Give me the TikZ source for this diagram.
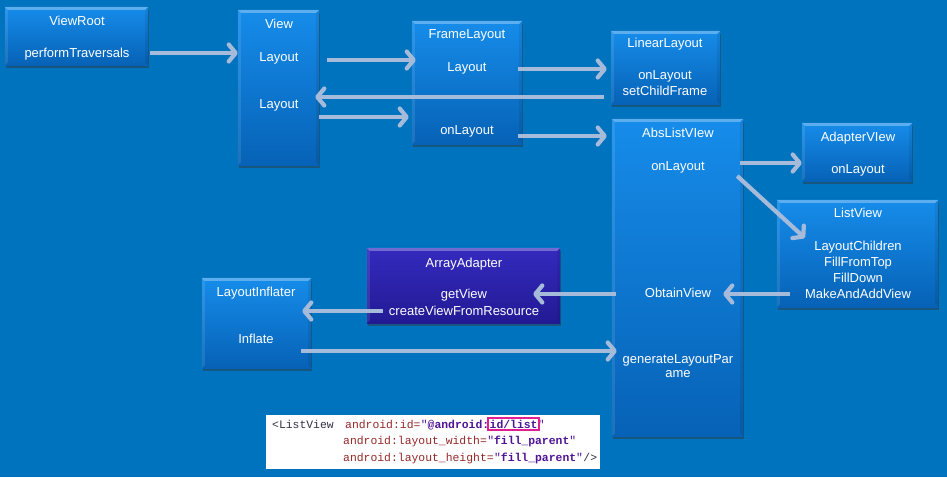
\documentclass[tikz,border=0pt]{standalone}
\usepackage{fontspec}
\setmainfont{Liberation Sans}
\newfontfamily\codefont{Liberation Mono}
\usetikzlibrary{arrows.meta,calc,shadows,fit}
\definecolor{bg}{RGB}{0,115,190}
\definecolor{boxtop}{RGB}{22,140,234}
\definecolor{boxbot}{RGB}{6,98,182}
\definecolor{aatop}{RGB}{52,42,190}
\definecolor{aabot}{RGB}{34,26,148}
\definecolor{arrc}{RGB}{166,187,217}
\definecolor{tagc}{RGB}{50,50,70}
\definecolor{attc}{RGB}{150,40,40}
\definecolor{valc}{RGB}{80,20,150}
\definecolor{hlc}{RGB}{225,30,145}
\tikzset{
  box/.style={rectangle, inner sep=0pt, top color=boxtop, bottom color=boxbot,
    draw=none,
    drop shadow={shadow xshift=1.2pt, shadow yshift=-2.5pt, opacity=0.45, fill=black!80}},
  aabox/.style={box, top color=aatop, bottom color=aabot},
  bevtop/.style={fill=white, fill opacity=0.3},
  bevleft/.style={fill=white, fill opacity=0.1},
  bevright/.style={fill=black, fill opacity=0.07},
  txt/.style={anchor=base, inner sep=0pt, text=white, font=\fontsize{13}{16}\selectfont},
  arr/.style={draw=arrc, line width=4.2pt, -{Straight Barb[length=7pt,width=17pt,round]}},
  code/.style={anchor=base west, inner sep=0pt, font=\codefont\fontsize{11.4}{14}\selectfont},
}
\begin{document}
\begin{tikzpicture}[x=1pt,y=-1pt]
\useasboundingbox (0,0) rectangle (947,477);
\fill[bg] (0,0) rectangle (947,477);

% boxes
\node[box, minimum width=143pt, minimum height=58pt] (vr) at (76.5,36) {};
\node[box, minimum width=81pt, minimum height=155pt] (view) at (278.5,87.5) {};
\node[box, minimum width=110pt, minimum height=123pt] (fl) at (467,82.5) {};
\node[box, minimum width=109pt, minimum height=73pt] (ll) at (665.5,67.5) {};
\node[box, minimum width=131pt, minimum height=317pt] (abs) at (677.5,277.5) {};
\node[box, minimum width=110pt, minimum height=58pt] (av) at (857,152) {};
\node[box, minimum width=161pt, minimum height=107pt] (lv) at (857.5,253.5) {};
\node[aabox, minimum width=193pt, minimum height=75pt] (aa) at (463.5,285.5) {};
\node[box, minimum width=109pt, minimum height=90pt] (li) at (256.5,323) {};

% bevels
\foreach \b in {vr,view,fl,ll,abs,av,lv,aa,li}{
  \path[bevtop] (\b.north west) -- (\b.north east) -- ($(\b.north east)+(-3,3)$) -- ($(\b.north west)+(3,3)$) -- cycle;
  \path[bevleft] (\b.north west) -- ($(\b.north west)+(3,3)$) -- ($(\b.south west)+(3,-3)$) -- (\b.south west) -- cycle;
  \path[bevright] (\b.north east) -- ($(\b.north east)+(-3,3)$) -- ($(\b.south east)+(-3,-3)$) -- (\b.south east) -- cycle;
}

% texts
\node[txt] (vrT) at (77,25.7) {ViewRoot};
\node[txt] (vrP) at (77,57.7) {performTraversals};
\node[txt] (viewT) at (279,28.7) {View};
\node[txt] (viewL1) at (279,61.7) {Layout};
\node[txt] (viewL2) at (279,108.7) {Layout};
\node[txt] (flT) at (467,38.7) {FrameLayout};
\node[txt] (flL) at (467,71.7) {Layout};
\node[txt] (flO) at (467,134.7) {onLayout};
\node[txt] (llT) at (665,47.7) {LinearLayout};
\node[txt] (llO) at (665,79.7) {onLayout};
\node[txt] (llS) at (665,95.7) {setChildFrame};
\node[txt] (absT) at (678,137.7) {AbsListVIew};
\node[txt] (absO) at (678,170.7) {onLayout};
\node[txt] (absV) at (678,297.7) {ObtainView};
\node[txt] (absG1) at (678,363.2) {generateLayoutPar};
\node[txt] (absG2) at (678,377.7) {ame};
\node[txt] (avT) at (858,141.7) {AdapterVIew};
\node[txt] (avO) at (858,173.7) {onLayout};
\node[txt] (lvT) at (858,217.7) {ListView};
\node[txt] (lv1) at (858,250.2) {LayoutChildren};
\node[txt] (lv2) at (858,266.2) {FillFromTop};
\node[txt] (lv3) at (858,282.2) {FillDown};
\node[txt] (lv4) at (858,298.2) {MakeAndAddView};
\node[txt] (aaT) at (464,267.7) {ArrayAdapter};
\node[txt] (aaG) at (464,298.7) {getView};
\node[txt] (aaC) at (464,315.7) {createViewFromResource};
\node[txt] (liT) at (256,296.7) {LayoutInflater};
\node[txt] (liI) at (256,343.7) {Inflate};

% arrows
\draw[arr] ($(vr.east|-0,53)+(2,0)$) -- (view.west|-0,53);
\draw[arr] ($(view.east|-0,60)+(8,0)$) -- ($(fl.west|-0,60)+(4,0)$);
\draw[arr] ($(fl.east|-0,69)+(-4,0)$) -- ($(ll.west|-0,69)+(-4,0)$);
\draw[arr] ($(ll.west|-0,97)+(-7,0)$) -- ($(view.east|-0,97)+(-4,0)$);
\draw[arr] (view.east|-0,117) -- ($(fl.west|-0,117)+(-3,0)$);
\draw[arr] ($(fl.east|-0,136)+(-4,0)$) -- ($(abs.west|-0,136)+(-5,0)$);
\draw[arr] ($(abs.east|-0,163)+(-3,0)$) -- (av.west|-0,163);
\draw[arr] ($(abs.east|-0,176)+(-6,0)$) -- ($(lv.west|-0,238)+(28,0)$);
\draw[arr] ($(lv.west|-0,294)+(13,0)$) -- ($(abs.east|-0,294)+(-20,0)$);
\draw[arr] ($(abs.west|-0,294)+(4,0)$) -- ($(aa.east|-0,294)+(-27,0)$);
\draw[arr] ($(aa.west|-0,311)+(16,0)$) -- ($(li.east|-0,311)+(-9,0)$);
\draw[arr] ($(li.east|-0,351)+(-10,0)$) -- ($(abs.west|-0,351)+(5,0)$);

% code snippet
\node[fill=white, inner sep=0pt, minimum width=334pt, minimum height=54pt] (snip) at (433,441.5) {};
\node[code, text=tagc] (c1a) at (272,428) {<ListView};
\node[code, text=attc] (c1b) at (345,428) {android:id=};
\node[code, text=valc] (c1c) at (c1b.base east) {"\textbf{@android:}};
\node[code, text=valc, font=\codefont\bfseries\fontsize{11.4}{14}\selectfont] (idl) at (c1c.base east) {id/list};
\node[code, text=valc] (c1e) at (idl.base east) {"};
\node[draw=hlc, line width=2pt, inner sep=1.2pt, fit=(idl)] (hl) {};
\node[code, text=attc] (c2a) at (343,444) {android:layout\_width=};
\node[code, text=valc] (c2b) at (c2a.base east) {"\textbf{fill\_parent}"};
\node[code, text=attc] (c3a) at (343,461) {android:layout\_height=};
\node[code, text=valc] (c3b) at (c3a.base east) {"\textbf{fill\_parent}"};
\node[code, text=tagc] (c3c) at (c3b.base east) {/>};
\end{tikzpicture}
\end{document}
